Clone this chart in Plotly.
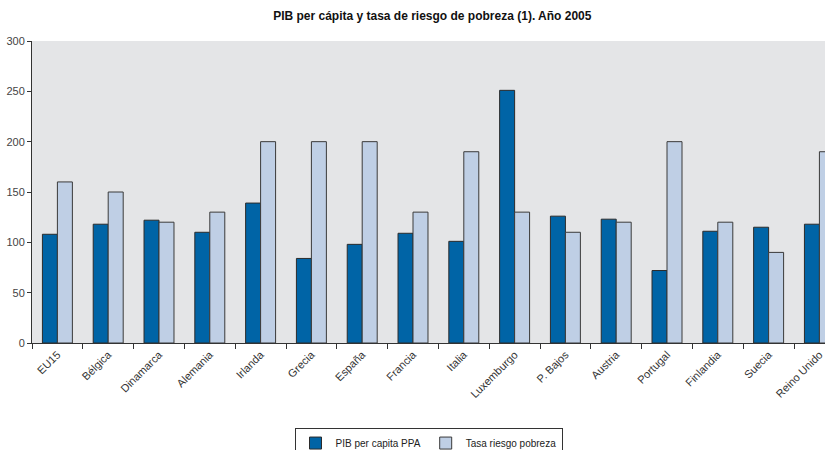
import plotly.graph_objects as go

categories = ["EU15", "Bélgica", "Dinamarca", "Alemania", "Irlanda", "Grecia", "España",
              "Francia", "Italia", "Luxemburgo", "P. Bajos", "Austria", "Portugal",
              "Finlandia", "Suecia", "Reino Unido"]
pib = [108, 118, 122, 110, 139, 84, 98, 109, 101, 251, 126, 123, 72, 111, 115, 118]
pobreza = [160, 150, 120, 130, 200, 200, 200, 130, 190, 130, 110, 120, 200, 120, 90, 190]
y_ticks = [0, 50, 100, 150, 200, 250, 300]

fig = go.Figure()
fig.add_trace(go.Bar(x=categories, y=pib, name="PIB per capita PPA",
                     marker=dict(color="#0064A6", line=dict(color="#2b2b2b", width=1))))
fig.add_trace(go.Bar(x=categories, y=pobreza, name="Tasa riesgo pobreza",
                     marker=dict(color="#BFCFE5", line=dict(color="#3a3a3a", width=1))))

fig.update_layout(
    width=825, height=450,
    margin=dict(l=32, r=0, t=41, b=107, autoexpand=False),
    paper_bgcolor="white", plot_bgcolor="#E4E5E7",
    font=dict(family="Liberation Sans, Arial, sans-serif", size=11, color="#333"),
    title=dict(text="<b>PIB per cápita y tasa de riesgo de pobreza (1). Año 2005</b>",
               x=0.524, xanchor="center", y=0.965, yanchor="middle",
               font=dict(size=12, color="#111")),
    barmode="group", bargap=0.41, bargroupgap=0,
    showlegend=True,
    legend=dict(orientation="h", x=0.5, xanchor="center", y=-0.28, yanchor="top",
                bordercolor="#333", borderwidth=1, bgcolor="white",
                font=dict(size=10, color="#222"), itemwidth=30, tracegroupgap=0),
)
fig.update_xaxes(range=[-0.5, 15.11], showline=True, linecolor="#333", linewidth=1,
                 ticks="outside", tickson="boundaries", ticklen=5, tickcolor="#333",
                 tickangle=-45, showgrid=False, automargin=False,
                 tickfont=dict(size=11, color="#333"))
fig.update_yaxes(range=[0, 300], tickvals=y_ticks, showline=True, linecolor="#333",
                 linewidth=1, ticks="outside", ticklen=4, tickcolor="#333",
                 showgrid=False, zeroline=False, automargin=False,
                 tickfont=dict(size=11, color="#444"))

fig.write_html("out.html", config={"displayModeBar": False},
               post_script="document.body.style.margin='0';document.body.style.overflow='hidden';")
